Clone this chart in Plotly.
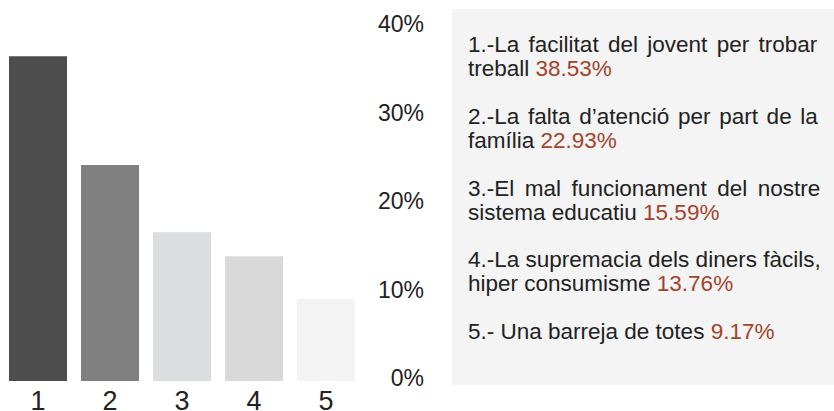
import plotly.graph_objects as go

# ---- data ----
categories = [1, 2, 3, 4, 5]
bar_values = [36.7, 24.4, 16.8, 14.1, 9.3]
y_ticks = [0, 10, 20, 30, 40]
y_tick_labels = ["0%", "10%", "20%", "30%", "40%"]
legend_first_lines = [
    "1.-La facilitat del jovent per trobar",
    "2.-La falta d’atenció per part de la",
    "3.-El mal funcionament del nostre",
    "4.-La supremacia dels diners fàcils,",
    "5.- Una barreja de totes",
]
legend_second_lines = ["treball", "família", "sistema educatiu", "hiper consumisme", None]
legend_pcts = [38.53, 22.93, 15.59, 13.76, 9.17]

# ---- style ----
bar_colors = ["#4d4d4d", "#808080", "#dcdddf", "#d9d9d9", "#f2f3f2"]
# extra word spacing (px) to mimic the justified paragraph lines
justify_spacing = [3.07, 2.44, 4.3, 0.0, 0.0]
text_color = "#222222"
pct_color = "#a2432b"
font_family = "Liberation Sans, Arial, sans-serif"
W, H = 834, 411
ML, MR, MT, MB = 2, 410, 27, 30
PW, PH = W - ML - MR, H - MT - MB


def px_x(px):
    return (px - ML) / PW


def px_y(py):
    return (H - MB - py) / PH


fig = go.Figure()
fig.add_trace(go.Bar(
    x=categories, y=bar_values,
    marker=dict(color=bar_colors, line=dict(width=0)),
    width=0.806,
    hoverinfo="skip",
))

# legend background box
fig.add_shape(type="rect", xref="paper", yref="paper",
              x0=px_x(452), x1=px_x(834), y0=px_y(385), y1=px_y(9),
              fillcolor="#f3f4f3", line=dict(width=0), layer="below")

annotations = []
fs = 22.5
for i, (l1, l2, p) in enumerate(zip(legend_first_lines, legend_second_lines, legend_pcts)):
    yc = 44.5 + 71.8 * i
    pct = f"<span style='color:{pct_color}'>{p:.2f}%</span>"
    if l2 is None:
        t1 = f"{l1} {pct}"
    else:
        t1 = f"<span style='word-spacing:{justify_spacing[i]}px'>{l1}</span>"
    annotations.append(dict(x=px_x(466), y=px_y(yc), xref="paper", yref="paper",
                            xanchor="left", yanchor="middle", text=t1, showarrow=False,
                            font=dict(size=fs, color=text_color, family=font_family)))
    if l2 is not None:
        annotations.append(dict(x=px_x(466), y=px_y(yc + 24), xref="paper", yref="paper",
                                xanchor="left", yanchor="middle", text=f"{l2} {pct}",
                                showarrow=False,
                                font=dict(size=fs, color=text_color, family=font_family)))

fig.update_layout(
    width=W, height=H,
    margin=dict(l=ML, r=MR, t=MT, b=MB, pad=0, autoexpand=False),
    paper_bgcolor="white", plot_bgcolor="white",
    showlegend=False,
    annotations=annotations,
    font=dict(family=font_family, color=text_color, size=fs),
    xaxis=dict(range=[0.5, 6.36], tickvals=categories, ticktext=[str(c) for c in categories],
               showgrid=False, zeroline=False, showline=False, ticks="",
               ticklabelstandoff=1, automargin=False,
               tickfont=dict(size=27, color=text_color), fixedrange=True),
    yaxis=dict(range=[0, 40], tickvals=y_ticks, ticktext=y_tick_labels, side="left",
               anchor="free", position=1.0, automargin=False, ticklabelshift=-3,
               showgrid=False, zeroline=False, showline=False,
               ticks="", tickfont=dict(size=23, color=text_color), fixedrange=True),
)

fig.write_html("out.html", config={"displayModeBar": False},
               post_script="document.body.style.margin='0px';")
